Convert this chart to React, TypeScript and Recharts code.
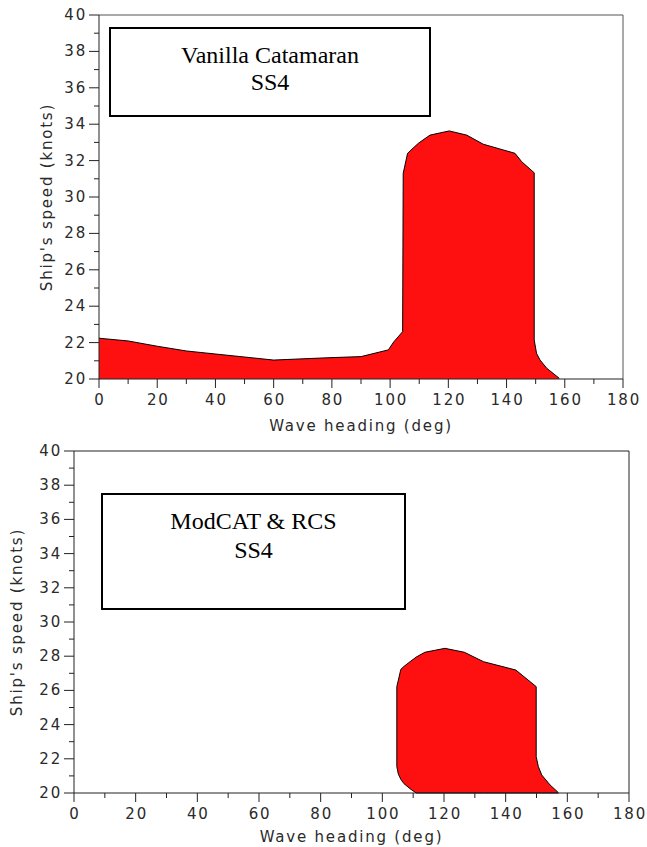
import { ComposedChart, Area, XAxis, YAxis, ReferenceLine } from 'recharts';

// wave heading ticks (deg) and ship speed ticks (knots)
const xTicks = [0, 10, 20, 30, 40, 50, 60, 70, 80, 90, 100, 110, 120, 130, 140, 150, 160, 170, 180];
const yTicks = [20, 21, 22, 23, 24, 25, 26, 27, 28, 29, 30, 31, 32, 33, 34, 35, 36, 37, 38, 39, 40];

// Vanilla Catamaran SS4 - boundary of operable region
const vanillaHeading = [0, 10, 20, 30, 60, 79, 90, 99.4, 101.3, 104.3, 104.5, 106, 109.7, 113.7, 120.3, 126.3, 132, 142.9, 145.2, 149.5, 149.5, 150.3, 151.5, 153.8, 158.1];
const vanillaSpeed = [22.24, 22.09, 21.8, 21.54, 21.04, 21.17, 21.23, 21.6, 22.05, 22.6, 31.3, 32.4, 32.95, 33.4, 33.63, 33.4, 32.9, 32.4, 31.94, 31.33, 22.14, 21.41, 21.04, 20.59, 20.04];

// ModCAT & RCS SS4 - lower and upper boundary of operable region
const modcatHeading = [104.7, 104.7, 105.2, 106, 107, 109, 111, 113.8, 120.3, 126.6, 132.8, 143.3, 149.9, 149.9, 150.6, 151.7, 154.4, 157.1];
const modcatLow = [21.54, 21.54, 21.1, 20.8, 20.55, 20.25, 20, 20, 20, 20, 20, 20, 20, 20, 20, 20, 20, 20];
const modcatHigh = [21.54, 26.22, 26.6, 27.23, 27.4, 27.68, 27.95, 28.23, 28.46, 28.23, 27.68, 27.19, 26.22, 22.12, 21.54, 21.05, 20.47, 20.02];

const vanillaData = vanillaHeading.map((x, i) => ({ x, speed: vanillaSpeed[i] }));
const modcatData = modcatHeading.map((x, i) => ({ x, range: [modcatLow[i], modcatHigh[i]] }));

const axisFont = { fontFamily: 'DejaVu Sans', fontSize: 15, letterSpacing: 1.8, fill: '#2a2a2a' };
const RED = '#ff1010';

function XTick(props: any) {
  const { x, y, payload } = props;
  const major = payload.value % 20 === 0;
  return (
    <g>
      <line x1={x} y1={y} x2={x} y2={y + (major ? 9 : 5)} stroke="#222" />
      {major && (
        <text x={x + 1} y={y + 21} textAnchor="middle" dominantBaseline="central" {...axisFont}>
          {payload.value}
        </text>
      )}
    </g>
  );
}

function YTick(props: any) {
  const { x, y, payload } = props;
  const major = payload.value % 2 === 0;
  return (
    <g>
      <line x1={x} y1={y} x2={x - (major ? 10 : 5)} y2={y} stroke="#222" />
      {major && (
        <text x={x - 12} y={y} textAnchor="end" dominantBaseline="central" {...axisFont}>
          {payload.value}
        </text>
      )}
    </g>
  );
}

function TitleBox({ left, top, width, height, lines }: { left: number; top: number; width: number; height: number; lines: { text: string; y: number }[] }) {
  return (
    <div
      style={{
        position: 'absolute',
        left,
        top,
        width,
        height,
        boxSizing: 'border-box',
        border: '2px solid #000',
        background: '#fff',
      }}
    >
      {lines.map((l) => (
        <div
          key={l.text}
          style={{
            position: 'absolute',
            left: 0,
            right: 0,
            top: l.y - top - 14,
            height: 28,
            lineHeight: '28px',
            textAlign: 'center',
            fontFamily: 'Liberation Serif',
            fontSize: 24,
            color: '#000',
          }}
        >
          {l.text}
        </div>
      ))}
    </div>
  );
}

export default function App() {
  return (
    <div style={{ position: 'absolute', left: 0, top: 0, width: 647, height: 847, background: '#fff' }}>
      <div style={{ position: 'absolute', left: 0, top: 0 }}>
        <ComposedChart width={647} height={440} data={vanillaData} margin={{ top: 15, right: 24, left: 0, bottom: 0 }}>
          <XAxis
            type="number"
            dataKey="x"
            domain={[0, 180]}
            ticks={xTicks}
            interval={0}
            height={61}
            tickSize={0}
            tickMargin={0}
            tickLine={false}
            tick={<XTick />}
            axisLine={{ stroke: '#222' }}
            label={{ value: 'Wave heading (deg)', position: 'insideBottom', offset: 9, style: axisFont }}
          />
          <YAxis
            type="number"
            domain={[20, 40]}
            ticks={yTicks}
            interval={0}
            width={99}
            tickSize={0}
            tickMargin={0}
            tickLine={false}
            tick={<YTick />}
            axisLine={{ stroke: '#222' }}
            label={{ value: "Ship's speed (knots)", angle: -90, position: 'insideLeft', offset: 47, style: { ...axisFont, textAnchor: 'middle' } }}
          />
          <ReferenceLine y={40} stroke="#555" />
          <ReferenceLine x={180} stroke="#555" />
          <Area
            type="linear"
            dataKey="speed"
            fill={RED}
            fillOpacity={1}
            stroke="#000"
            strokeWidth={1}
            isAnimationActive={false}
          />
        </ComposedChart>
      </div>
      <div style={{ position: 'absolute', left: 0, top: 440 }}>
        <ComposedChart width={647} height={407} data={modcatData} margin={{ top: 11, right: 18, left: 0, bottom: 0 }}>
          <XAxis
            type="number"
            dataKey="x"
            domain={[0, 180]}
            ticks={xTicks}
            interval={0}
            height={54}
            tickSize={0}
            tickMargin={0}
            tickLine={false}
            tick={<XTick />}
            axisLine={{ stroke: '#222' }}
            label={{ value: 'Wave heading (deg)', position: 'insideBottom', offset: 5, style: axisFont }}
          />
          <YAxis
            type="number"
            domain={[20, 40]}
            ticks={yTicks}
            interval={0}
            width={74}
            tickSize={0}
            tickMargin={0}
            tickLine={false}
            tick={<YTick />}
            axisLine={{ stroke: '#222' }}
            label={{ value: "Ship's speed (knots)", angle: -90, position: 'insideLeft', offset: 17, style: { ...axisFont, textAnchor: 'middle' } }}
          />
          <ReferenceLine y={40} stroke="#222" />
          <ReferenceLine x={180} stroke="#222" />
          <Area
            type="linear"
            dataKey="range"
            fill={RED}
            fillOpacity={1}
            stroke="#000"
            strokeWidth={1}
            isAnimationActive={false}
          />
        </ComposedChart>
      </div>
      <TitleBox
        left={109}
        top={27}
        width={322}
        height={90}
        lines={[
          { text: 'Vanilla Catamaran', y: 53 },
          { text: 'SS4', y: 80 },
        ]}
      />
      <TitleBox
        left={101}
        top={493}
        width={305}
        height={117}
        lines={[
          { text: 'ModCAT & RCS', y: 519 },
          { text: 'SS4', y: 548 },
        ]}
      />
    </div>
  );
}
